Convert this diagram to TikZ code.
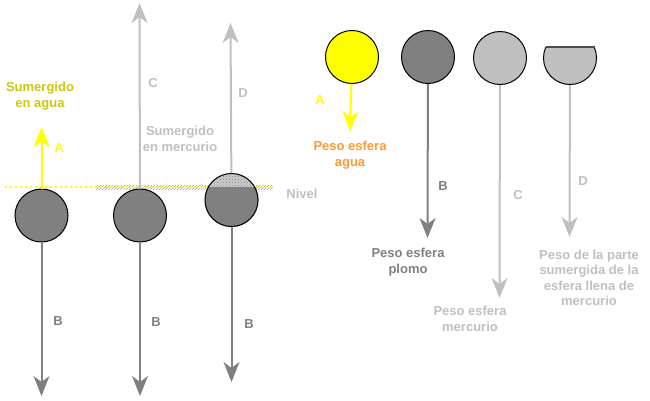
\documentclass[tikz,border=0pt]{standalone}
\usepackage{fontspec}
\setmainfont{Liberation Sans}
\usetikzlibrary{arrows.meta,patterns}
\definecolor{dg}{RGB}{128,128,128}
\definecolor{lg}{RGB}{192,192,192}
\definecolor{yl}{RGB}{255,255,0}
\definecolor{olive}{RGB}{200,200,20}
\definecolor{org}{RGB}{255,153,51}
\definecolor{capc}{RGB}{205,205,205}
\definecolor{band}{RGB}{165,165,165}
\tikzset{
  every node/.style={font=\bfseries\fontsize{13}{15.5}\selectfont},
  sphere/.style={circle, draw=black, line width=1pt, minimum size=53pt, inner sep=0pt},
  force/.style={line width=2pt, -{Stealth[length=20pt,width=16pt,inset=6pt]}},
  lbl/.style={align=center, inner sep=0pt},
}
\begin{document}
\begin{tikzpicture}[x=1pt,y=-1pt]
\useasboundingbox (0,0) rectangle (650,400);
% level line
\fill[pattern=north east lines, pattern color=band] (95,185.5) rectangle (273,189);
\draw[yl, line width=2.2pt, dash pattern=on 2pt off 3pt] (5,187) -- (273,187);
% left spheres
\node[sphere, fill=dg] (s1) at (41.5,215.5) {};
\node[sphere, fill=dg] (s2) at (140,215.5) {};
\begin{scope}
  \clip (231.5,200) circle (27);
  \fill[dg] (200,187) rectangle (265,230);
  \fill[capc] (200,170) rectangle (265,187);
  \fill[pattern=crosshatch dots, pattern color=dg] (200,170) rectangle (265,187);
\end{scope}
\node[sphere] (s3) at (231.5,200) {};
% left arrow ends
\coordinate (a1) at (41.5,127);
\coordinate (c1) at (139.5,3);
\coordinate (d1) at (230.5,23);
\coordinate (b1) at (41.5,396);
\coordinate (b2) at (140,396);
\coordinate (b3) at (231.5,382);
\draw[force, yl] (s1) -- (a1);
\draw[force, lg] (s2) -- (c1);
\draw[force, lg] (s3) -- (d1);
\draw[force, dg] (s1) -- (b1);
\draw[force, dg] (s2) -- (b2);
\draw[force, dg] (s3) -- (b3);
% left labels
\node[lbl, text=olive] (t1) at (40,96) {Sumergido\\en agua};
\node[lbl, text=yl] (la1) at (59,148) {A};
\node[lbl, text=lg] (lc1) at (153,83) {C};
\node[lbl, text=lg] (ld1) at (243,93) {D};
\node[lbl, text=lg] (t2) at (180,139) {Sumergido\\en mercurio};
\node[lbl, text=lg] (tn) at (302,194) {Nivel};
\node[lbl, text=dg] (lb1) at (58,321) {B};
\node[lbl, text=dg] (lb2) at (156,322) {B};
\node[lbl, text=dg] (lb3) at (249,324) {B};
% right spheres
\node[sphere, fill=yl] (r1) at (352,57) {};
\node[sphere, fill=dg] (r2) at (428,57) {};
\node[sphere, fill=lg] (r3) at (500,58) {};
\begin{scope}
  \clip (540,47) rectangle (600,90);
  \node[sphere, fill=lg] (r4) at (570,58) {};
\end{scope}
\draw[line width=2pt, black!70] (545.5,47) -- (594.5,47);
\coordinate (ra) at (350,131);
\coordinate (rb) at (427.5,238);
\coordinate (rc) at (499.5,298);
\coordinate (rd) at (569.5,237);
\draw[force, yl] (r1) -- (ra);
\draw[force, dg] (r2) -- (rb);
\draw[force, lg] (r3) -- (rc);
\draw[force, lg] (r4) -- (rd);
\node[lbl, text=yl] (ra1) at (320,100) {A};
\node[lbl, text=org] (tr1) at (350,155) {Peso esfera\\agua};
\node[lbl, text=dg] (rb1) at (443,186) {B};
\node[lbl, text=lg] (rc1) at (518,195) {C};
\node[lbl, text=lg] (rd1) at (583,181) {D};
\node[lbl, text=dg] (tr2) at (408,262) {Peso esfera\\plomo};
\node[lbl, text=lg] (tr3) at (470,319) {Peso esfera\\mercurio};
\node[lbl, text=lg] (tr4) at (589,278) {Peso de la parte\\sumergida de la\\esfera llena de\\mercurio};
\end{tikzpicture}
\end{document}
